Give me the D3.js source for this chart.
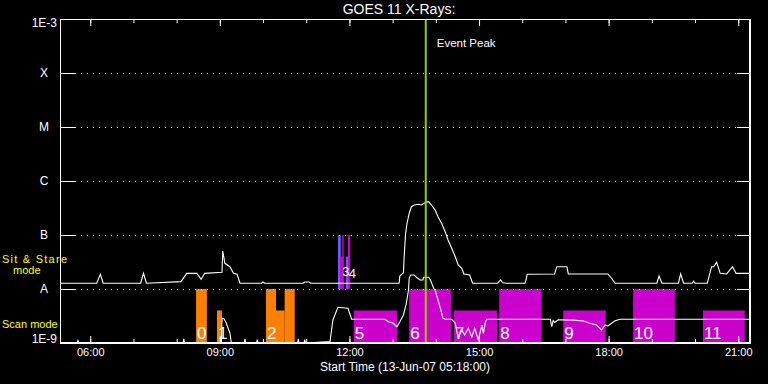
<!DOCTYPE html>
<html>
<head>
<meta charset="utf-8">
<script src="https://cdn.jsdelivr.net/npm/d3@7"></script>
<style>
  html, body { margin: 0; padding: 0; background: #000; }
  svg { display: block; }
  text { font-family: "Liberation Sans", Arial, sans-serif; fill: #fff; }
</style>
</head>
<body>
<div id="chart"></div>
<script>
// GOES 11 long channel (1-8 A)
const longTimes = ["05:18","06:09","06:14","06:18","07:10","07:14","07:18","08:06","08:14","08:28","08:34","08:39",
  "09:03","09:04","09:07","09:14","09:19","09:24","09:28","09:58","10:00","10:02","10:56","10:58","11:04","11:06",
  "13:09","13:10","13:15","13:16","13:18","13:20","13:23","13:26","13:30","13:36","13:40","13:46","13:50","13:54",
  "13:59","14:03","14:08","14:13","14:17","14:22","14:27","14:31","14:36","14:39","14:47","14:51","15:26","15:30",
  "15:33","15:38","16:04","16:07","16:45","16:48","17:02","17:04","17:59","18:04","18:09","19:07","19:10","19:14",
  "19:37","19:40","19:44","19:56","19:58","20:00","20:17","20:23","20:26","20:30","20:35","20:44","20:52","20:57","21:16"];
const longFlux = [1.28e-8,1.28e-8,1.87e-8,1.28e-8,1.28e-8,1.95e-8,1.28e-8,1.37e-8,1.95e-8,1.95e-8,1.51e-8,1.95e-8,
  2.04e-8,5.06e-8,2.99e-8,2.59e-8,1.95e-8,1.87e-8,1.28e-8,1.28e-8,1.35e-8,1.28e-8,1.28e-8,1.35e-8,1.35e-8,1.28e-8,
  1.28e-8,1.74e-8,2.0e-8,3.96e-8,1.07e-7,1.65e-7,2.52e-7,3.34e-7,3.59e-7,3.70e-7,3.59e-7,4.04e-7,4.14e-7,3.59e-7,
  2.90e-7,2.18e-7,1.65e-7,1.15e-7,8.08e-8,5.67e-8,3.96e-8,2.78e-8,2.42e-8,1.90e-8,1.82e-8,1.28e-8,1.28e-8,1.47e-8,
  1.30e-8,1.28e-8,1.28e-8,1.87e-8,1.90e-8,2.59e-8,2.59e-8,1.90e-8,1.90e-8,1.58e-8,1.28e-8,1.28e-8,1.74e-8,1.28e-8,
  1.28e-8,1.90e-8,1.28e-8,1.28e-8,1.40e-8,1.28e-8,1.28e-8,2.59e-8,2.60e-8,3.12e-8,1.95e-8,1.90e-8,2.59e-8,1.95e-8,1.95e-8];

// GOES 11 short channel (0.5-4 A)
const shortTimes = ["05:18","05:42","05:43","05:44","08:09","08:10","08:11","09:02","09:03","09:06","09:09","09:14",
  "09:16","09:34","09:35","09:36","09:51","09:52","09:53","10:48","10:49","10:50","10:57","10:58","10:59","11:33",
  "11:37","11:44","11:58","12:03","12:49","12:54","13:01","13:06","13:10","13:15","13:19","13:22","13:23","13:25",
  "13:30","13:33","13:38","13:42","13:43","13:50","13:52","13:57","13:59","14:03","14:07","14:10","14:13","14:22",
  "14:27","14:31","14:36","14:40","14:45","14:50","14:54","14:59","15:04","15:06","15:09","15:11","16:39","16:41",
  "16:43","16:45","16:50","17:11","17:25","17:34","17:43","17:50","17:55","17:59","18:04","18:09","18:16","21:16"];
const shortFlux = [1.0e-9,1.0e-9,1.14e-9,1.0e-9,1.0e-9,1.2e-9,1.0e-9,1.0e-9,2.87e-9,2.8e-9,2.32e-9,1.53e-9,
  1.0e-9,1.0e-9,1.2e-9,1.0e-9,1.0e-9,1.15e-9,1.0e-9,1.0e-9,1.2e-9,1.0e-9,1.0e-9,1.15e-9,1.0e-9,1.06e-9,
  2.67e-9,4.59e-9,4.39e-9,2.75e-9,2.75e-9,2.48e-9,2.32e-9,2.0e-9,2.48e-9,3.30e-9,5.43e-9,9.58e-9,1.58e-8,1.82e-8,
  1.82e-8,1.65e-8,1.47e-8,1.47e-8,1.65e-8,1.65e-8,1.51e-8,1.03e-8,9.58e-9,6.25e-9,4.08e-9,2.87e-9,2.75e-9,2.75e-9,
  2.32e-9,1.24e-9,1.74e-9,1.41e-9,1.87e-9,1.3e-9,1.87e-9,1.14e-9,2.15e-9,1.5e-9,2.48e-9,2.75e-9,2.75e-9,2.0e-9,
  2.6e-9,2.4e-9,2.7e-9,2.65e-9,2.55e-9,2.32e-9,2.15e-9,1.74e-9,2.15e-9,2.07e-9,2.32e-9,2.59e-9,2.75e-9,2.75e-9];

// scan mode rasters (bottom band)
const scanLabel = ["0","1","2","","","5","6","7","8","9","10","11"];
const scanStart = ["08:27","08:56","10:04","10:18","10:30","12:06","13:23","14:25","15:28","16:57","18:34","20:11"];
const scanEnd   = ["08:42","09:03","10:18","10:30","10:44","13:06","14:21","15:25","16:27","17:56","19:32","21:09"];
const scanTop   = [1e-8,4e-9,1e-8,4e-9,1e-8,4e-9,1e-8,4e-9,1e-8,4e-9,1e-8,4e-9];
const scanStudy = ["a","a","a","a","a","b","b","b","b","b","b","b"];

// sit & stare rasters (upper band)
const ssStart = ["11:44","11:47","11:50","11:55","11:58"];
const ssEnd   = ["11:48","11:52","11:52","11:58","12:01"];
const ssTop   = [1e-7,4e-8,1e-7,4e-8,1e-7];
const ssStudy = ["c","b","b","c","b"];
const ssLabel = ["3","4"];
const ssLabelTime = ["11:50","11:59"];

const yTickValues = [1e-3,1e-4,1e-5,1e-6,1e-7,1e-8,1e-9];
const yTickLabels = ["1E-3","X","M","C","B","A","1E-9"];
const xMajorTicks = ["06:00","09:00","12:00","15:00","18:00","21:00"];
const eventPeak = "13:46";
const domainStart = "05:18:00", domainEnd = "21:16:20";

const studyColor = { a: "#ff8000", b: "#cc00cc", c: "#6060ff" };

const W = 768, H = 384;
const mLeft = 60, mRight = 750, mTop = 19, mBottom = 343;
const parseHM = d3.timeParse("%Y-%m-%d %H:%M");
const parseHMS = d3.timeParse("%Y-%m-%d %H:%M:%S");
const T = s => parseHM("2007-06-13 " + s);

const x = d3.scaleTime()
  .domain([parseHMS("2007-06-13 " + domainStart), parseHMS("2007-06-13 " + domainEnd)])
  .range([mLeft, mRight]);
const y = d3.scaleLog().domain([1e-9, 1e-3]).range([mBottom, mTop]);

const svg = d3.select('#chart').append('svg')
  .attr('width', W).attr('height', H)
  .style('background', '#000');

// title
svg.append('text').attr('x', 399).attr('y', 14)
  .attr('text-anchor', 'middle').style('font-size', '14px')
  .text('GOES 11 X-Rays:');

// raster bars
svg.append('g').selectAll('rect')
  .data(scanStart.map((s, i) => ({ s: T(s), e: T(scanEnd[i]), top: scanTop[i], c: studyColor[scanStudy[i]] })))
  .enter().append('rect')
  .attr('x', d => x(d.s))
  .attr('width', d => x(d.e) - x(d.s))
  .attr('y', d => y(d.top))
  .attr('height', d => y(1e-9) - y(d.top))
  .attr('fill', d => d.c);

svg.append('g').selectAll('rect')
  .data(ssStart.map((s, i) => ({ s: T(s), e: T(ssEnd[i]), top: ssTop[i], c: studyColor[ssStudy[i]] })))
  .enter().append('rect')
  .attr('x', d => x(d.s))
  .attr('width', d => x(d.e) - x(d.s))
  .attr('y', d => y(d.top))
  .attr('height', d => y(1e-8) - y(d.top))
  .attr('fill', d => d.c);

// raster numbers
svg.append('g').selectAll('text')
  .data(scanLabel.map((l, i) => ({ l: l, s: T(scanStart[i]) })).filter(d => d.l))
  .enter().append('text')
  .attr('x', d => x(d.s) + 1)
  .attr('y', mBottom - 4)
  .style('font-size', '17px')
  .text(d => d.l);

svg.append('g').selectAll('text')
  .data(ssLabel.map((l, i) => ({ l: l, s: T(ssLabelTime[i]) })))
  .enter().append('text')
  .attr('x', d => x(d.s))
  .attr('y', (d, i) => 276 + i * 2)
  .style('font-size', '13px')
  .text(d => d.l);

// gridlines
svg.append('g').selectAll('line')
  .data(yTickValues.slice(1, -1))
  .enter().append('line')
  .attr('x1', mLeft + 15).attr('x2', mRight - 13)
  .attr('y1', d => Math.round(y(d)) + 0.5).attr('y2', d => Math.round(y(d)) + 0.5)
  .attr('stroke', '#fff').attr('stroke-dasharray', '1,5');

// curves
const line = d3.line().x(d => x(d[0])).y(d => y(d[1]));
svg.append('path')
  .datum(longTimes.map((t, i) => [T(t), longFlux[i]]))
  .attr('d', line).attr('fill', 'none').attr('stroke', '#fff').attr('stroke-width', 1.1);
svg.append('path')
  .datum(shortTimes.map((t, i) => [T(t), shortFlux[i]]))
  .attr('d', line).attr('fill', 'none').attr('stroke', '#fff').attr('stroke-width', 1.1);

// event peak
svg.append('line')
  .attr('x1', x(T(eventPeak))).attr('x2', x(T(eventPeak)))
  .attr('y1', mTop).attr('y2', mBottom)
  .attr('stroke', '#99cc00').attr('stroke-width', 2);
svg.append('text').attr('x', x(T(eventPeak)) + 11).attr('y', 47)
  .style('font-size', '11.5px').text('Event Peak');

// axes
const hourly = d3.timeHour.range(T("06:00"), T("21:16"));
const major = xMajorTicks.map(T);
function styleAxis(g) {
  g.selectAll('path, line').attr('stroke', '#fff');
  g.selectAll('text').attr('fill', '#fff').style('font-size', '11px')
    .style('font-family', '"Liberation Sans", Arial, sans-serif');
}
svg.append('g').attr('transform', `translate(0,${mBottom})`)
  .call(d3.axisBottom(x).tickValues(hourly).tickSize(-4).tickSizeOuter(0).tickFormat(''))
  .call(styleAxis);
svg.append('g').attr('transform', `translate(0,${mBottom})`)
  .call(d3.axisBottom(x).tickValues(major).tickSize(-7).tickSizeOuter(0)
    .tickPadding(5).tickFormat(d3.timeFormat('%H:%M')))
  .call(styleAxis);
svg.append('g').attr('transform', `translate(0,${mTop})`)
  .call(d3.axisTop(x).tickValues(hourly).tickSize(-4).tickSizeOuter(0).tickFormat(''))
  .call(styleAxis);
svg.append('g').attr('transform', `translate(0,${mTop})`)
  .call(d3.axisTop(x).tickValues(major).tickSize(-7).tickSizeOuter(0).tickFormat(''))
  .call(styleAxis);
svg.append('g').attr('transform', `translate(${mLeft},0)`)
  .call(d3.axisLeft(y).tickValues(yTickValues).tickSize(-15).tickSizeOuter(0).tickFormat(''))
  .call(styleAxis);
svg.append('g').attr('transform', `translate(${mRight},0)`)
  .call(d3.axisRight(y).tickValues(yTickValues).tickSize(-13).tickSizeOuter(0).tickFormat(''))
  .call(styleAxis);

// y labels
svg.append('g').selectAll('text')
  .data(yTickValues)
  .enter().append('text')
  .attr('x', (d, i) => yTickLabels[i].length > 1 ? 57 : 44)
  .attr('y', d => Math.min(Math.max(y(d), mTop + 4), mBottom - 4) + 4)
  .attr('text-anchor', (d, i) => yTickLabels[i].length > 1 ? 'end' : 'middle')
  .style('font-size', '12px')
  .text((d, i) => yTickLabels[i]);

svg.append('text').attr('x', (mLeft + mRight) / 2).attr('y', 371)
  .attr('text-anchor', 'middle').style('font-size', '12px')
  .text('Start Time (13-Jun-07 05:18:00)');

// mode labels
svg.append('text').attr('x', 2).attr('y', 263).style('fill', '#ffff00').style('font-size', '11px')
  .attr('textLength', 65).text('Sit & Stare');
svg.append('text').attr('x', 13).attr('y', 274).style('fill', '#ffff00').style('font-size', '11px')
  .text('mode');
svg.append('text').attr('x', 2).attr('y', 328).style('fill', '#ffff00').style('font-size', '11px')
  .text('Scan mode');

// frame
svg.append('rect').attr('x', mLeft + 0.5).attr('y', mTop + 0.5)
  .attr('width', mRight - mLeft - 1).attr('height', mBottom - mTop - 1)
  .attr('fill', 'none').attr('stroke', '#fff');
</script>
</body>
</html>
